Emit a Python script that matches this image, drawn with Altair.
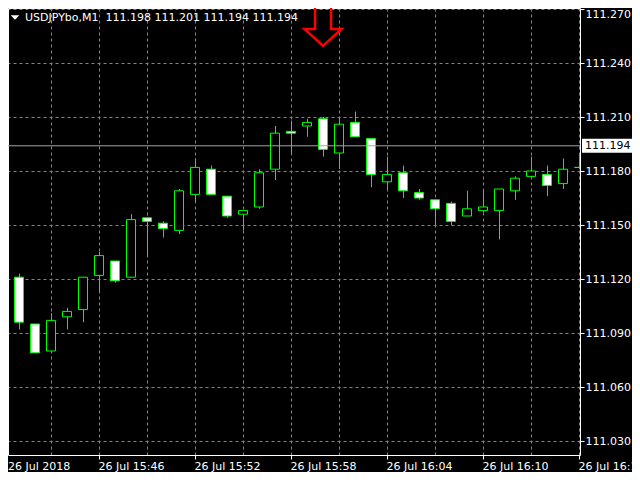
import json
import altair as alt
import pandas as pd

# ---------------- data ----------------
times = ["15:40", "15:41", "15:42", "15:43", "15:44", "15:45", "15:46", "15:47",
         "15:48", "15:49", "15:50", "15:51", "15:52", "15:53", "15:54", "15:55",
         "15:56", "15:57", "15:58", "15:59", "16:00", "16:01", "16:02", "16:03",
         "16:04", "16:05", "16:06", "16:07", "16:08", "16:09", "16:10", "16:11",
         "16:12", "16:13", "16:14", "16:15", "16:16"]
opens = [111.108, 111.121, 111.095, 111.080, 111.099, 111.103, 111.122, 111.130,
         111.121, 111.154, 111.151, 111.147, 111.167, 111.181, 111.166, 111.156,
         111.160, 111.181, 111.202, 111.205, 111.209, 111.190, 111.207, 111.198,
         111.174, 111.179, 111.168, 111.164, 111.162, 111.155, 111.158, 111.158,
         111.169, 111.177, 111.178, 111.173, 111.182]
highs = [111.123, 111.123, 111.095, 111.101, 111.104, 111.121, 111.135, 111.130,
         111.156, 111.154, 111.152, 111.170, 111.187, 111.183, 111.166, 111.158,
         111.181, 111.205, 111.208, 111.209, 111.210, 111.210, 111.213, 111.198,
         111.188, 111.183, 111.170, 111.164, 111.163, 111.169, 111.169, 111.170,
         111.177, 111.188, 111.183, 111.187, 111.189]
lows = [111.108, 111.092, 111.079, 111.080, 111.092, 111.096, 111.113, 111.118,
        111.121, 111.133, 111.143, 111.145, 111.163, 111.167, 111.154, 111.147,
        111.159, 111.175, 111.190, 111.199, 111.188, 111.181, 111.199, 111.171,
        111.170, 111.165, 111.164, 111.150, 111.150, 111.155, 111.157, 111.142,
        111.164, 111.177, 111.166, 111.170, 111.181]
closes = [111.122, 111.096, 111.079, 111.097, 111.102, 111.121, 111.133, 111.119,
          111.153, 111.152, 111.148, 111.169, 111.182, 111.167, 111.155, 111.158,
          111.179, 111.201, 111.201, 111.207, 111.192, 111.206, 111.199, 111.178,
          111.178, 111.169, 111.165, 111.159, 111.152, 111.159, 111.160, 111.170,
          111.176, 111.180, 111.172, 111.181, 111.182]

label_minutes = [6, 12, 18, 24, 30, 36]
label_texts = ["26 Jul 15:46", "26 Jul 15:52", "26 Jul 15:58", "26 Jul 16:04",
               "26 Jul 16:10", "26 Jul 16:16"]
first_label = "26 Jul 2018"
grid_minutes = [3, 6, 9, 12, 15, 18, 21, 24, 27, 30, 33, 36]
price_ticks = [111.030, 111.060, 111.090, 111.120, 111.150, 111.180, 111.210,
               111.240, 111.270]
current_price = 111.194
header_text = "USDJPYbo,M1\u00a0 111.198 111.201 111.194 111.194"
arrow_minute = [20]
arrow_price = [111.2495]

# ---------------- styling ----------------
FONT = "DejaVu Sans"
GREEN = "#00ff00"
GRID = "#778899"
WHITE = "#ffffff"
W, H = 572, 447
PAD_RIGHT = 52
PX_PER_MIN = 16
PX_PER_UNIT = 1800

x0 = 5 / PX_PER_MIN
xs = alt.Scale(domain=[x0, x0 + W / PX_PER_MIN], nice=False, zero=False, padding=0)
ytop = price_ticks[-1] + 1 / PX_PER_UNIT
ys = alt.Scale(domain=[ytop - H / PX_PER_UNIT, ytop], nice=False, zero=False, padding=0)

df = pd.DataFrame({"t": list(range(len(times))), "time": times, "open": opens,
                   "high": highs, "low": lows, "close": closes})

bottom_axis = alt.Axis(
    orient="bottom", values=label_minutes,
    labelExpr=f"{json.dumps(label_texts)}[indexof({json.dumps(label_minutes)}, datum.value)]",
    grid=False, domain=True, domainColor=WHITE, domainWidth=1,
    ticks=True, tickColor=WHITE, tickSize=4, tickWidth=1,
    labelColor=WHITE, labelFont=FONT, labelFontSize=11, labelAlign="left",
    labelOffset=-1, labelPadding=1, labelOverlap=False, labelFlush=False, title=None)

grid_axis = alt.Axis(
    orient="bottom", values=grid_minutes, grid=True, gridColor=GRID,
    gridDash=[3, 3], gridWidth=1, domain=False, ticks=False, labels=False, title=None)

right_axis = alt.Axis(
    orient="right", values=price_ticks, format=".3f",
    grid=True, gridColor=GRID, gridDash=[3, 3], gridWidth=1,
    domain=True, domainColor=WHITE, domainWidth=1,
    ticks=True, tickColor=WHITE, tickSize=4, tickWidth=1,
    labelColor=WHITE, labelFont=FONT, labelFontSize=11, labelPadding=1,
    labelOverlap=False, labelFlush=False,
    labelOffset={"condition": {"test": f"datum.value > {price_ticks[-1] - 0.001}",
                               "value": 5.5}, "value": 0},
    title=None)

top_axis = alt.Axis(orient="top", domain=True, domainColor=WHITE, domainWidth=1,
                    ticks=False, labels=False, grid=False, title=None)
left_axis = alt.Axis(orient="left", domain=True, domainColor=WHITE, domainWidth=1,
                     ticks=False, labels=False, grid=False, title=None)

wicks = alt.Chart(df).mark_rule(color=GREEN, strokeWidth=1, xOffset=0.5, clip=True).encode(
    x=alt.X("t:Q", scale=xs, axis=bottom_axis),
    y=alt.Y("low:Q", scale=ys, axis=right_axis),
    y2="high:Q",
)

bodies = alt.Chart(df).mark_bar(width=9, stroke=GREEN, strokeWidth=1, clip=True).encode(
    x=alt.X("t:Q", scale=xs, axis=grid_axis),
    y=alt.Y("open:Q", scale=ys, axis=None),
    y2="close:Q",
    fill=alt.condition("datum.close > datum.open", alt.value("#000000"), alt.value("#ffffff")),
)

price_df = pd.DataFrame({"price": [current_price], "label": [f"{current_price:.3f}"]})

price_rule = alt.Chart(price_df).mark_rule(color="#a0a4a8", strokeWidth=1).encode(
    y=alt.Y("price:Q", scale=ys, axis=None)
)

BOX_PATH = "M-2,-0.56L2,-0.56L2,0.56L-2,0.56Z"
price_box = alt.Chart(price_df).mark_point(
    shape=BOX_PATH, size=625, filled=True, fill=WHITE, strokeWidth=0, opacity=1
).encode(x=alt.value(W + 2 + 25), y=alt.Y("price:Q", scale=ys, axis=None))

price_text = alt.Chart(price_df).mark_text(
    align="left", baseline="middle", color="#000000", font=FONT, fontSize=11
).encode(x=alt.value(W + 5), y=alt.Y("price:Q", scale=ys, axis=None), text="label:N")

ARROW_PATH = "M0,0L-1.85,-1.7L-0.8,-1.7L-0.8,-6L0.8,-6L0.8,-1.7L1.85,-1.7Z"
arrow_df = pd.DataFrame({"t": arrow_minute, "p": arrow_price})
arrow = alt.Chart(arrow_df).mark_point(
    shape=ARROW_PATH, size=400, filled=False, color="#ff0000", stroke="#ff0000",
    strokeWidth=2.5, strokeJoin="miter", opacity=1
).encode(
    x=alt.X("t:Q", scale=xs, axis=top_axis),
    y=alt.Y("p:Q", scale=ys, axis=left_axis),
)

header_df = pd.DataFrame({"label": [header_text]})
header = alt.Chart(header_df).mark_text(
    align="left", baseline="middle", color=WHITE, font=FONT, fontSize=11
).encode(x=alt.value(17), y=alt.value(9.5), text="label:N")

TRI_PATH = "M-1,-0.55L1,-0.55L0,0.55Z"
triangle = alt.Chart(header_df).mark_point(
    shape=TRI_PATH, size=74, filled=True, fill=WHITE, strokeWidth=0, opacity=1
).encode(x=alt.value(7), y=alt.value(9.5))

first_df = pd.DataFrame({"label": [first_label]})
first_lbl = alt.Chart(first_df).mark_text(
    align="left", baseline="top", color=WHITE, font=FONT, fontSize=11
).encode(x=alt.value(0), y=alt.value(H + 0.5 + 4 + 1), text="label:N")

chart = alt.layer(
    wicks, bodies, price_rule, arrow, price_box, price_text, header, triangle, first_lbl
).resolve_axis(x="independent", y="independent").properties(
    width=W, height=H, background="#000000",
    padding={"left": 0, "top": 0, "right": PAD_RIGHT, "bottom": 17},
    autosize=alt.AutoSizeParams(type="none"),
).configure_view(strokeWidth=0)

chart.save("out.html", embed_options={"renderer": "svg", "actions": False})
